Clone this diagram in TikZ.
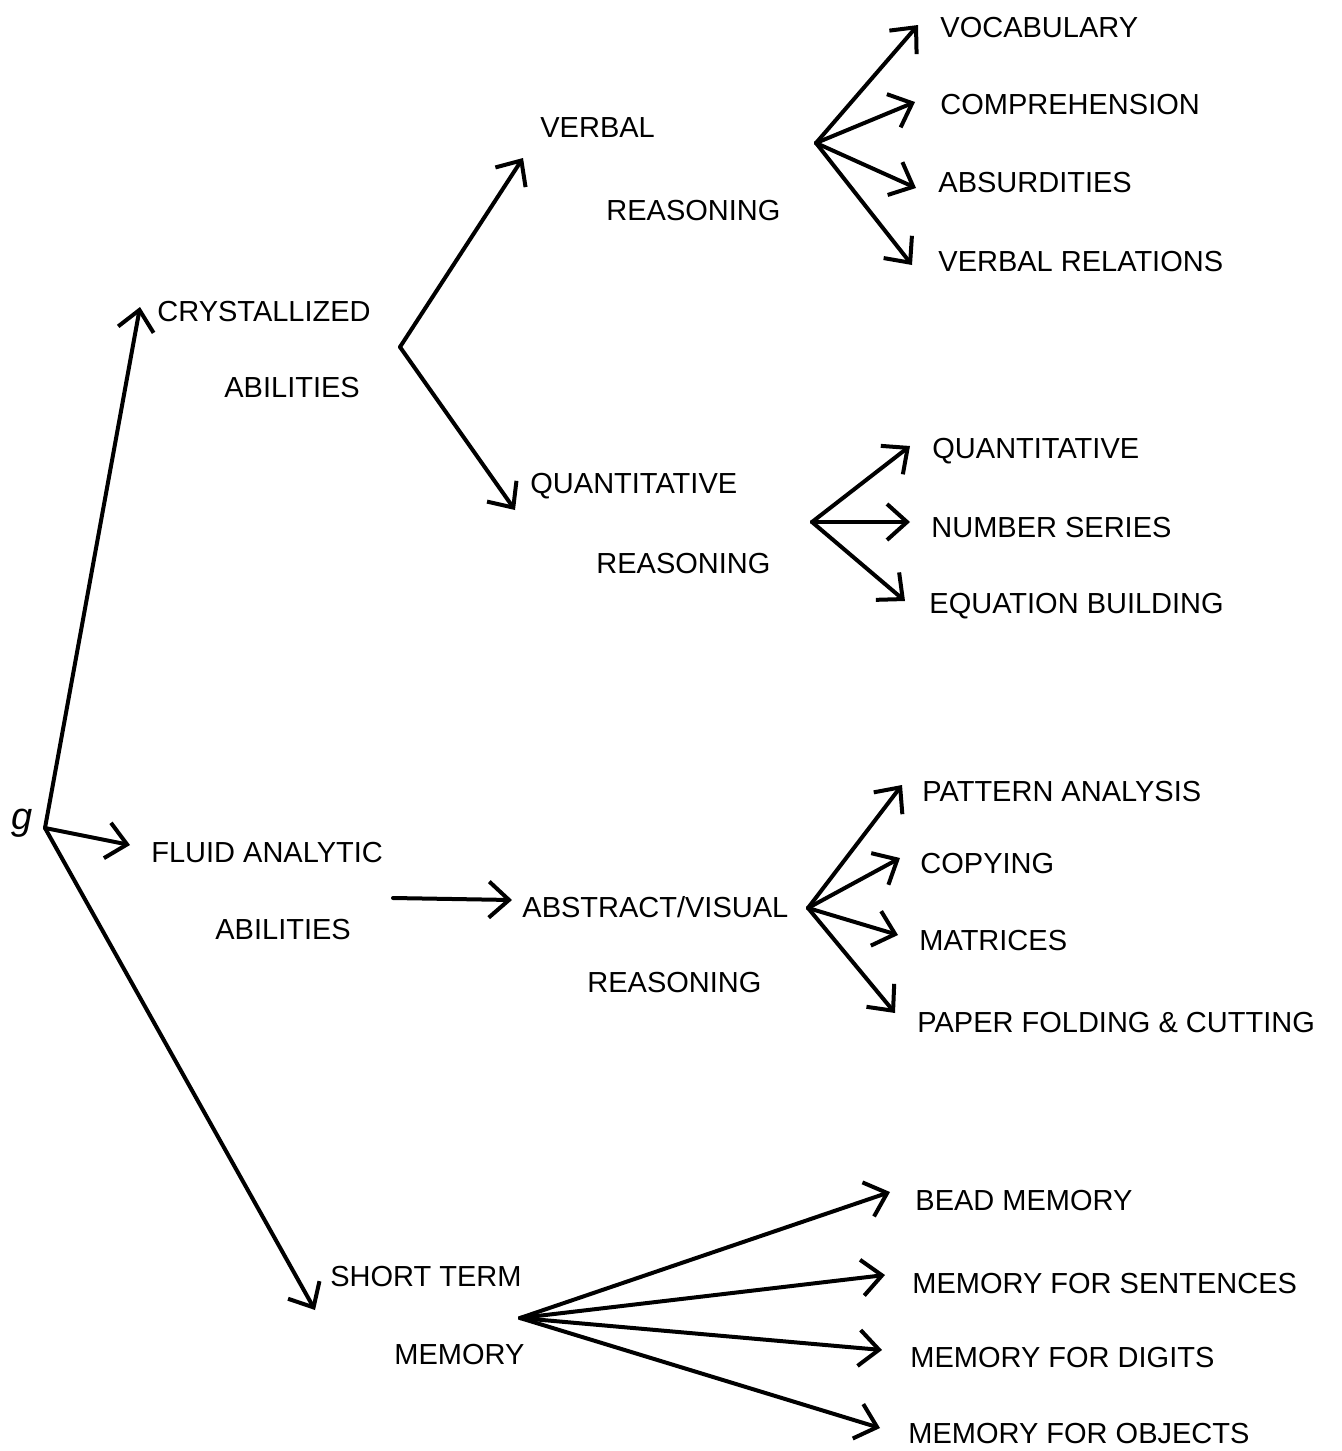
\documentclass[tikz,border=0pt]{standalone}
\usepackage{fontspec}
\setmainfont{Liberation Sans}
\usetikzlibrary{arrows.meta}
\begin{document}
\begin{tikzpicture}[x=0.5pt,y=-0.5pt,
  lbl/.style={anchor=west,inner sep=0pt,font=\fontsize{14.5}{16}\selectfont},
  arr/.style={line width=2pt,-{Straight Barb[length=10pt,width=18pt,line width=2pt]},line cap=round,line join=round},
  ln/.style={line width=2pt,line cap=round}]
\useasboundingbox (0,0) rectangle (1341,1451);
% root
\node[inner sep=0pt,font=\fontsize{19}{20}\selectfont\itshape] (g) at (22,823) {g};
\coordinate (g0) at (45,828);
% level 1 labels
\node[lbl] (cry1) at (157,312) {CRYSTALLIZED};
\node[lbl] (cry2) at (224,388) {ABILITIES};
\node[lbl] (flu1) at (151,853) {FLUID ANALYTIC};
\node[lbl] (flu2) at (215,930) {ABILITIES};
\node[lbl] (stm1) at (330,1277) {SHORT TERM};
\node[lbl] (stm2) at (394,1355) {MEMORY};
% level 2 labels
\node[lbl] (vr1) at (540,128) {VERBAL};
\node[lbl] (vr2) at (606,211) {REASONING};
\node[lbl] (qr1) at (530,486) {QUANTITATIVE};
\node[lbl] (qr2) at (596,564) {REASONING};
\node[lbl] (av1) at (522,907) {ABSTRACT/VISUAL};
\node[lbl] (av2) at (587,983) {REASONING};
% leaves
\node[lbl] (voc) at (940,28) {VOCABULARY};
\node[lbl] (com) at (940,105) {COMPREHENSION};
\node[lbl] (abs) at (938,183) {ABSURDITIES};
\node[lbl] (vrel) at (938,262) {VERBAL RELATIONS};
\node[lbl] (qua) at (932,451) {QUANTITATIVE};
\node[lbl] (num) at (931,528) {NUMBER SERIES};
\node[lbl] (equ) at (929,606) {EQUATION BUILDING};
\node[lbl] (pat) at (922,792) {PATTERN ANALYSIS};
\node[lbl] (cop) at (920,864) {COPYING};
\node[lbl] (mat) at (919,941) {MATRICES};
\node[lbl] (pap) at (917,1023) {PAPER FOLDING \& CUTTING};
\node[lbl] (bea) at (915,1201) {BEAD MEMORY};
\node[lbl] (sen) at (912,1284) {MEMORY FOR SENTENCES};
\node[lbl] (dig) at (910,1357) {MEMORY FOR DIGITS};
\node[lbl] (obj) at (908,1433) {MEMORY FOR OBJECTS};
% branch points
\coordinate (bc) at (400,347);
\coordinate (bv) at (816,143);
\coordinate (bq) at (812,522);
\coordinate (bf) at (393,898);
\coordinate (ba) at (808,908);
\coordinate (bm) at (520,1318);
% tips
\coordinate (tcry) at (140,307);
\coordinate (tflu) at (130,845);
\coordinate (tstm) at (315,1310);
\coordinate (tvr) at (523,158);
\coordinate (tqr) at (515,510);
\coordinate (tav) at (512,900);
\coordinate (tvoc) at (918,25);
\coordinate (tcom) at (915,102);
\coordinate (tabs) at (916,188);
\coordinate (tvrel) at (912,265);
\coordinate (tqua) at (910,446);
\coordinate (tnum) at (910,522);
\coordinate (tequ) at (905,601);
\coordinate (tpat) at (902,785);
\coordinate (tcop) at (900,858);
\coordinate (tmat) at (898,935);
\coordinate (tpap) at (895,1013);
\coordinate (tbea) at (890,1192);
\coordinate (tsen) at (885,1275);
\coordinate (tdig) at (882,1350);
\coordinate (tobj) at (880,1428);
% connectors
\draw[arr] (g0) -- (tcry);
\draw[arr] (g0) -- (tflu);
\draw[arr] (g0) -- (tstm);
\draw[arr] (bc) -- (tvr);
\draw[arr] (bc) -- (tqr);
\draw[arr] (bf) -- (tav);
\foreach \t in {tvoc,tcom,tabs,tvrel} \draw[arr] (bv) -- (\t);
\foreach \t in {tqua,tnum,tequ} \draw[arr] (bq) -- (\t);
\foreach \t in {tpat,tcop,tmat,tpap} \draw[arr] (ba) -- (\t);
\foreach \t in {tbea,tsen,tdig,tobj} \draw[arr] (bm) -- (\t);
\end{tikzpicture}
\end{document}
